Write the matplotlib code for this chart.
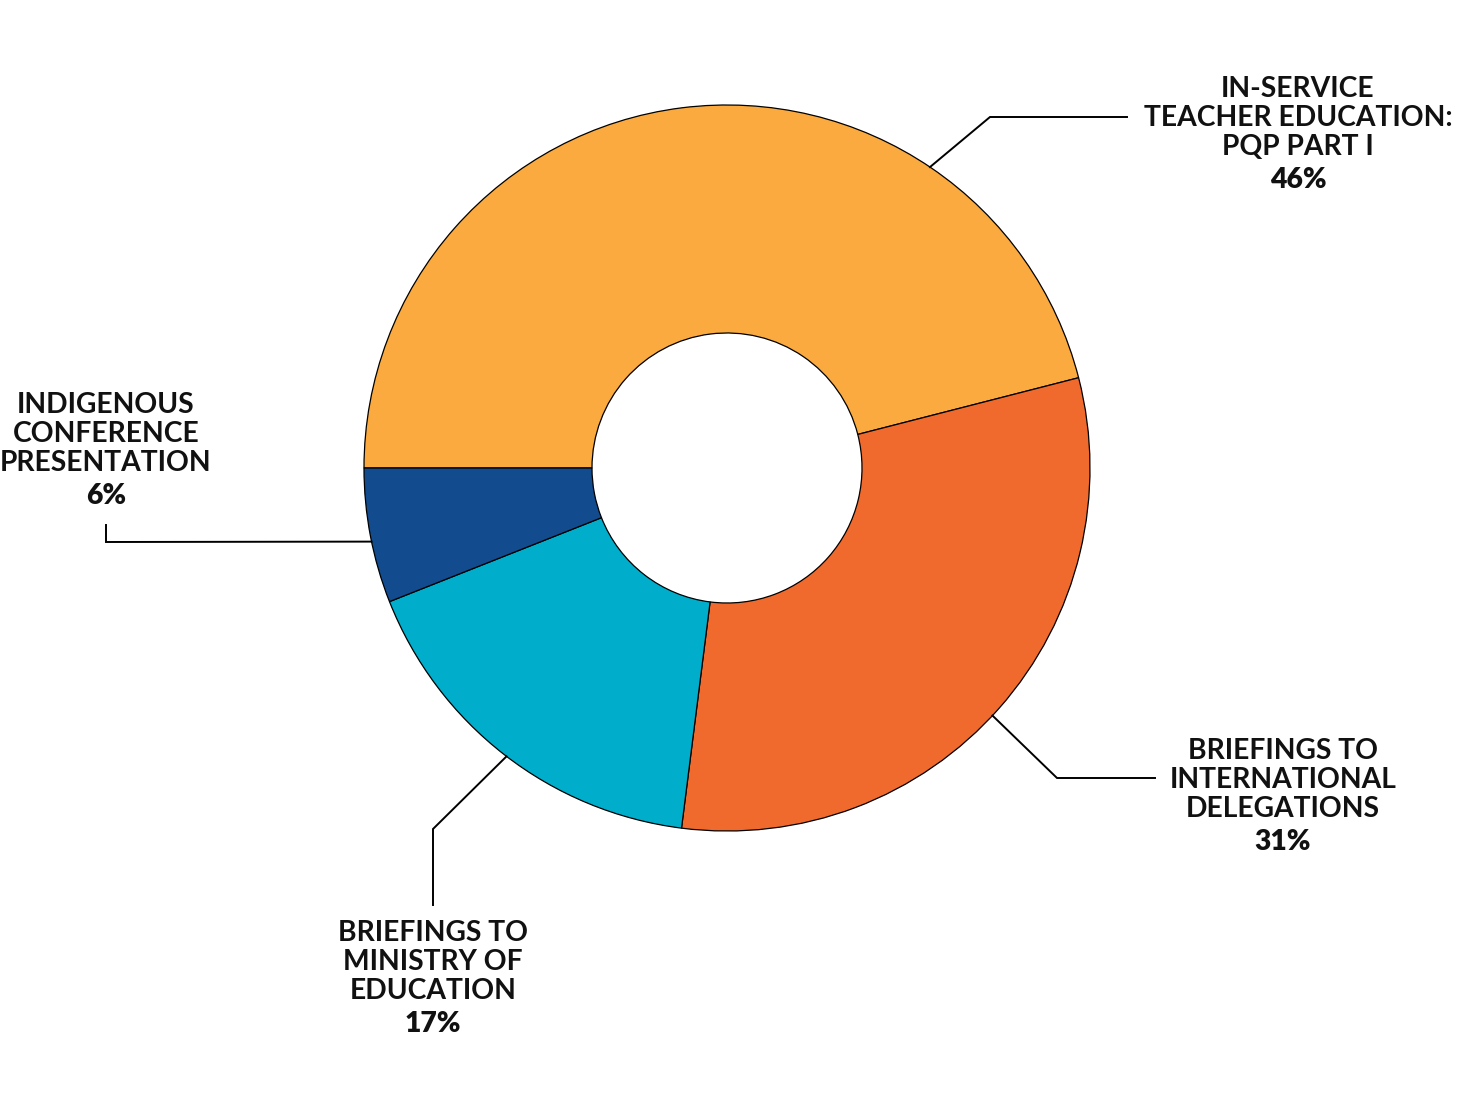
import matplotlib.pyplot as plt
import numpy as np

plt.rcParams['font.family'] = ['Lato', 'DejaVu Sans']

# data
categories = ['IN-SERVICE\nTEACHER EDUCATION:\nPQP PART I',
              'BRIEFINGS TO\nINTERNATIONAL\nDELEGATIONS',
              'BRIEFINGS TO\nMINISTRY OF\nEDUCATION',
              'INDIGENOUS\nCONFERENCE\nPRESENTATION']
shares = [46, 31, 17, 6]
colors = ['#FBAA3F', '#F06A2E', '#00AECB', '#124C8F']

W, H = 1459, 1100
fig = plt.figure(figsize=(W / 100, H / 100), dpi=100)
ax = fig.add_axes([0, 0, 1, 1])

cx, cy = 727, H - 468
R, r_in = 363, 135
ax.pie(shares, colors=colors, startangle=180, counterclock=False,
       center=(cx, cy), radius=R, frame=True,
       wedgeprops=dict(width=R - r_in, edgecolor='black', linewidth=0.9))
ax.set_xlim(0, W)
ax.set_ylim(0, H)
ax.set_aspect('equal')
ax.axis('off')

# leader lines: angle on rim, then path points in pixel coords (y down)
leaders = [
    (56, [(990, 117), (1127, 117)]),
    (-43, [(1057, 778), (1155, 778)]),
    (-127.4, [(433, 829), (433, 905)]),
    (-168.3, [(106, 542), (106, 525)]),
]
label_pos = [(1298, 89), (1283, 751), (433, 933), (106, 405)]
line_gap = 29

for (ang, pts), (lx, ly), cat, pct in zip(leaders, label_pos, categories, shares):
    a = np.deg2rad(ang)
    xs = [cx + R * np.cos(a)] + [p[0] for p in pts]
    ys = [cy + R * np.sin(a)] + [H - p[1] for p in pts]
    ax.plot(xs, ys, color='black', lw=1.4, solid_joinstyle='miter')
    lines = cat.split('\n')
    for i, t in enumerate(lines):
        ax.text(lx, H - (ly + i * line_gap), t, ha='center', va='center',
                fontsize=20.3, fontweight='bold', color='#111111')
    ax.text(lx, H - (ly + len(lines) * line_gap + 4), f'{pct}%', ha='center',
            va='center', fontsize=20.3, fontweight='heavy', color='#111111')

fig.savefig('out.png', dpi=100, facecolor='white')
